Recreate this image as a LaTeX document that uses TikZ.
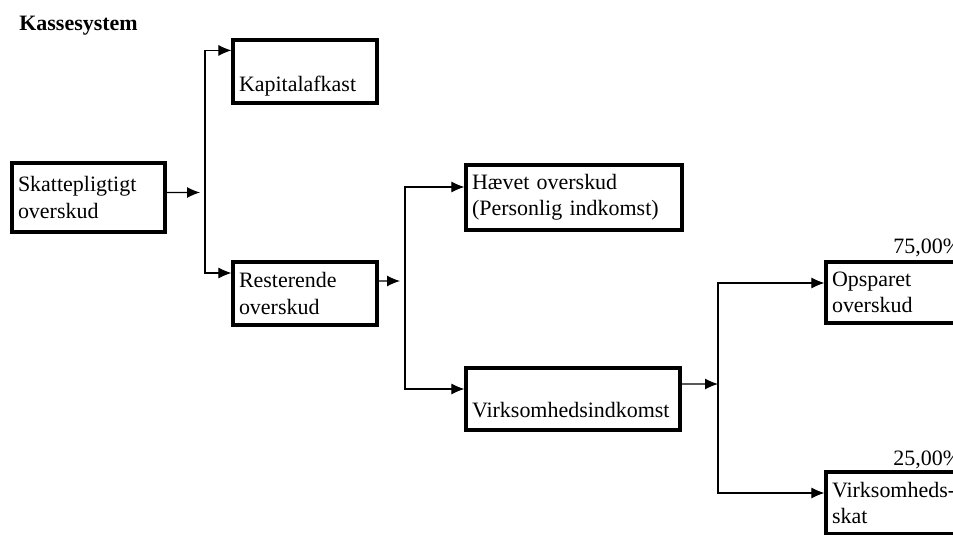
\documentclass[tikz,border=0pt]{standalone}
\usepackage{fontspec}
\setmainfont{Liberation Serif}
\usetikzlibrary{arrows.meta}
\tikzset{
  box/.style={draw, line width=1.8pt, inner xsep=0.12cm, inner ysep=0pt, align=left,
    font=\fontsize{12.5}{15}\selectfont},
  link/.style={line width=0.6pt, -{Latex[length=2.6mm,width=2.2mm]}},
}
\begin{document}
\begin{tikzpicture}[x=0.02cm,y=-0.02cm]
  \useasboundingbox (0,0) rectangle (953,534);
  \clip (0,0) rectangle (953,534);
  \node[anchor=west, inner xsep=0pt, font=\fontsize{12.5}{15}\selectfont\bfseries] (title) at (19,26) {Kassesystem};
  % boxes
  \node[box, text width=2.82cm, minimum height=1.38cm] (skat) at (88.5,197.5) {Skattepligtigt\\overskud};
  \node[box, text width=2.64cm, minimum height=1.26cm] (kap) at (305,71.5) {\strut\\Kapitalafkast};
  \node[box, text width=2.64cm, minimum height=1.26cm] (rest) at (305,293.5) {Resterende\\overskud};
  \node[box, text width=4.08cm, minimum height=1.30cm] (haev) at (574,197.5) {Hævet overskud\\(Personlig indkomst)};
  \node[box, text width=4.04cm, minimum height=1.24cm] (virk) at (573,399) {\strut\\[-4pt]Virksomhedsindkomst};
  \node[box, text width=2.64cm, minimum height=1.22cm] (ops) at (898,292.5) {Opsparet\\overskud};
  \node[box, text width=2.64cm, minimum height=1.24cm] (vskat) at (898,503) {Virksomheds-\\skat};
  \node[anchor=west, inner xsep=0pt, font=\fontsize{12.5}{15}\selectfont] (p75) at (893,248) {75,00\%};
  \node[anchor=west, inner xsep=0pt, font=\fontsize{12.5}{15}\selectfont] (p25) at (893,460) {25,00\%};
  % connectors
  \coordinate (j1) at (205,192.5);
  \coordinate (j2) at (405,281);
  \coordinate (j3) at (718,384);
  \draw[link, shorten >=0.1cm] ([yshift=0.1cm]skat.east) -- (j1);
  \draw[link] (j1) |- ([yshift=-0.24cm]kap.north west);
  \draw[link] (j1) |- ([yshift=0.41cm]rest.west);
  \draw[link, shorten >=0.1cm] ([yshift=0.25cm]rest.east) -- (j2);
  \draw[link] (j2) |- ([yshift=0.21cm]haev.west);
  \draw[link] (j2) |- ([yshift=0.2cm]virk.west);
  \draw[link] ([yshift=0.3cm]virk.east) -- (j3);
  \draw[link] (j3) |- ([yshift=0.19cm]ops.west);
  \draw[link] (j3) |- ([yshift=0.2cm]vskat.west);
\end{tikzpicture}
\end{document}
